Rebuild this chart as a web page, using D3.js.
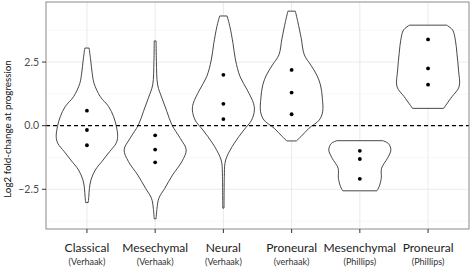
<!DOCTYPE html>
<html>
<head>
<meta charset="utf-8">
<script src="https://cdn.jsdelivr.net/npm/d3@7"></script>
<style>
  body { margin: 0; background: #fff; }
  svg { display: block; font-family: Lato, "Open Sans", sans-serif; }
</style>
</head>
<body>
<div id="chart"></div>
<script>
// categories (first line / second line of the x labels)
const groups = ["Classical", "Mesechymal", "Neural", "Proneural", "Mesenchymal", "Proneural"];
const sources = ["(Verhaak)", "(Verhaak)", "(Verhaak)", "(verhaak)", "(Phillips)", "(Phillips)"];

// three points per group
const points = [
    [0.59, -0.17, -0.77],
    [-0.38, -0.94, -1.44],
    [2.0, 0.86, 0.26],
    [2.19, 1.30, 0.45],
    [-0.99, -1.31, -2.09],
    [3.39, 2.25, 1.61]
];

// violin outlines: [log2 value, relative half width]
const violins = [
    [[3.05, 0.07], [2.58, 0.12], [2.06, 0.17], [1.66, 0.23], [1.14, 0.43], [0.75, 0.70], [0.35, 0.86],
     [-0.04, 0.95], [-0.43, 0.99], [-0.69, 0.94], [-1.02, 0.73], [-1.35, 0.52], [-1.74, 0.27],
     [-2.13, 0.13], [-2.46, 0.08], [-2.79, 0.06], [-3.02, 0.04]],
    [[3.33, 0.03], [2.51, 0.04], [1.60, 0.08], [1.08, 0.22], [0.55, 0.38], [0.03, 0.54], [-0.50, 0.81],
     [-0.95, 1.0], [-1.41, 0.86], [-1.94, 0.56], [-2.46, 0.31], [-2.85, 0.12], [-3.24, 0.06], [-3.66, 0.03]],
    [[4.31, 0.12], [3.89, 0.21], [3.23, 0.31], [2.58, 0.39], [1.92, 0.54], [1.40, 0.77], [0.88, 0.97],
     [0.62, 1.0], [0.22, 0.91], [-0.17, 0.66], [-0.69, 0.35], [-1.22, 0.11], [-1.48, 0.05], [-2.0, 0.03],
     [-3.24, 0.02]],
    [[4.50, 0.12], [4.08, 0.20], [3.43, 0.31], [2.78, 0.41], [2.38, 0.62], [1.99, 0.81], [1.60, 0.93],
     [1.08, 0.99], [0.55, 1.0], [0.22, 0.89], [-0.10, 0.56], [-0.43, 0.30], [-0.60, 0.15]],
    [[-0.59, 0.74], [-0.70, 0.92], [-0.95, 1.0], [-1.28, 0.89], [-1.67, 0.70], [-2.07, 0.69],
     [-2.40, 0.62], [-2.56, 0.55]],
    [[3.95, 0.60], [3.76, 0.79], [3.36, 0.88], [2.84, 0.93], [2.19, 0.98], [1.53, 1.0], [1.14, 0.77],
     [0.68, 0.50]]
];

const yTicks = [-2.5, 0, 2.5];
const yMinor = [-3.75, -1.25, 1.25, 3.75];

const width = 472, height = 268;
const margin = { top: 2, right: 3, bottom: 39, left: 46 };
const panelW = width - margin.left - margin.right;
const panelH = height - margin.top - margin.bottom;

const svg = d3.select("#chart").append("svg")
    .attr("width", width)
    .attr("height", height);

// ggplot style discrete scale: 0.6 expansion each side
const step = panelW / (groups.length - 1 + 1.2);
const x = d3.scalePoint()
    .domain(d3.range(groups.length))
    .range([margin.left + 0.6 * step, margin.left + panelW - 0.6 * step]);
const halfW = 0.455 * step;

const y = d3.scaleLinear()
    .domain([-4.06, 4.86])
    .range([margin.top + panelH, margin.top]);

const panel = svg.append("g");

// grid
panel.selectAll(".minor").data(yMinor).enter().append("line")
    .attr("x1", margin.left).attr("x2", margin.left + panelW)
    .attr("y1", d => y(d)).attr("y2", d => y(d))
    .attr("stroke", "#f4f4f4").attr("stroke-width", 0.6);
panel.selectAll(".major").data(yTicks).enter().append("line")
    .attr("x1", margin.left).attr("x2", margin.left + panelW)
    .attr("y1", d => y(d)).attr("y2", d => y(d))
    .attr("stroke", "#e6e6e6").attr("stroke-width", 0.8);
panel.selectAll(".vgrid").data(groups).enter().append("line")
    .attr("x1", (d, i) => x(i)).attr("x2", (d, i) => x(i))
    .attr("y1", margin.top).attr("y2", margin.top + panelH)
    .attr("stroke", "#e6e6e6").attr("stroke-width", 0.8);

// violins
violins.forEach((v, i) => {
    const cx = x(i);
    const area = d3.area()
        .y(d => y(d[0]))
        .x0(d => cx - d[1] * halfW)
        .x1(d => cx + d[1] * halfW)
        .curve(d3.curveCatmullRom.alpha(0.5));
    panel.append("path")
        .attr("d", area(v))
        .attr("fill", "#fff")
        .attr("stroke", "#333")
        .attr("stroke-width", 0.9);
});

// dashed zero line
panel.append("line")
    .attr("x1", margin.left).attr("x2", margin.left + panelW)
    .attr("y1", y(0)).attr("y2", y(0))
    .attr("stroke", "#000")
    .attr("stroke-width", 1.2)
    .attr("stroke-dasharray", "4,3");

// points
points.forEach((p, i) => {
    panel.selectAll(null).data(p).enter().append("circle")
        .attr("cx", x(i))
        .attr("cy", d => y(d))
        .attr("r", 1.9)
        .attr("fill", "#000");
});

// border
svg.append("rect")
    .attr("x", margin.left).attr("y", margin.top)
    .attr("width", panelW).attr("height", panelH)
    .attr("fill", "none")
    .attr("stroke", "#8a8a8a")
    .attr("stroke-width", 1);

// y axis ticks and labels
svg.selectAll(".ytick").data(yTicks).enter().append("line")
    .attr("x1", margin.left - 4).attr("x2", margin.left)
    .attr("y1", d => y(d)).attr("y2", d => y(d))
    .attr("stroke", "#333");
svg.selectAll(".ylab").data(yTicks).enter().append("text")
    .attr("x", margin.left - 7)
    .attr("y", d => y(d))
    .attr("dy", "0.35em")
    .attr("text-anchor", "end")
    .attr("font-size", 10.5)
    .attr("fill", "#4d4d4d")
    .text(d => d3.format(".1f")(d));

svg.append("text")
    .attr("transform", `translate(11,129) rotate(-90)`)
    .attr("text-anchor", "middle")
    .attr("font-size", 9.8)
    .attr("fill", "#111")
    .text("Log2 fold-change at progression");

// x axis ticks and labels
svg.selectAll(".xtick").data(groups).enter().append("line")
    .attr("x1", (d, i) => x(i)).attr("x2", (d, i) => x(i))
    .attr("y1", margin.top + panelH).attr("y2", margin.top + panelH + 4)
    .attr("stroke", "#333");
svg.selectAll(".xlab").data(groups).enter().append("text")
    .attr("x", (d, i) => x(i))
    .attr("y", 252)
    .attr("text-anchor", "middle")
    .attr("font-size", 12)
    .attr("fill", "#222")
    .text(d => d);
svg.selectAll(".xsrc").data(sources).enter().append("text")
    .attr("x", (d, i) => x(i))
    .attr("y", 265)
    .attr("text-anchor", "middle")
    .attr("font-size", 9)
    .attr("fill", "#333")
    .text(d => d);
</script>
</body>
</html>
